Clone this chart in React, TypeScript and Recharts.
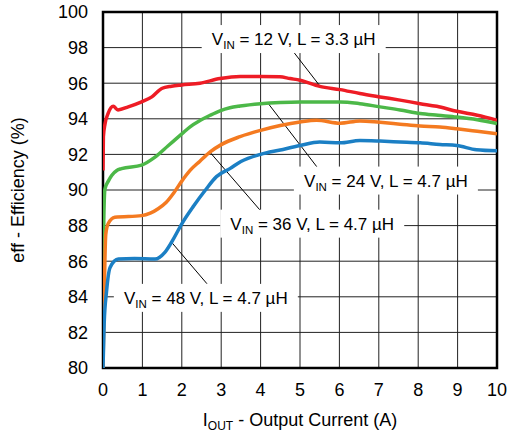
import React from "react";
import {
  LineChart,
  Line,
  XAxis,
  YAxis,
  CartesianGrid,
  ReferenceArea,
  ReferenceLine,
  ReferenceDot,
  Label,
} from "recharts";

// ---- Data ----
const xTicks = [0, 1, 2, 3, 4, 5, 6, 7, 8, 9, 10];
const yTicks = [80, 82, 84, 86, 88, 90, 92, 94, 96, 98, 100];

const cur12 = [0, 0.01, 0.05, 0.13, 0.26, 0.38, 0.64, 0.98, 1.24, 1.49, 1.74, 2.0, 2.46, 2.97, 3.48, 4.0, 4.49, 4.75, 5.0, 5.5, 6.02, 6.52, 7.03, 7.54, 8.05, 8.47, 8.98, 9.5, 10];
const eff12 = [91.1, 93.0, 93.7, 94.3, 94.7, 94.5, 94.67, 94.95, 95.23, 95.7, 95.83, 95.9, 96.0, 96.26, 96.38, 96.38, 96.36, 96.26, 96.17, 95.82, 95.64, 95.42, 95.23, 95.05, 94.85, 94.7, 94.42, 94.2, 93.92];

const cur24 = [0, 0.02, 0.05, 0.135, 0.22, 0.35, 0.47, 0.98, 1.32, 1.66, 2.0, 2.21, 2.46, 2.72, 2.97, 3.22, 3.48, 4.0, 4.5, 5.0, 5.67, 6.02, 6.52, 7.03, 7.54, 8.05, 8.5, 8.98, 9.5, 10];
const eff24 = [84, 88.3, 90.07, 90.5, 90.82, 91.1, 91.2, 91.4, 91.85, 92.5, 93.15, 93.55, 93.9, 94.2, 94.45, 94.62, 94.72, 94.85, 94.92, 94.95, 94.95, 94.95, 94.85, 94.67, 94.5, 94.3, 94.2, 94.1, 93.95, 93.73];

const cur36 = [0, 0.03, 0.07, 0.13, 0.3, 0.98, 1.2, 1.4, 1.6, 1.8, 2.0, 2.21, 2.46, 2.72, 3.0, 3.48, 4.0, 4.5, 5.0, 5.42, 6.02, 6.52, 7.03, 7.54, 8.05, 8.55, 8.98, 9.5, 10];
const eff36 = [80, 84, 87.5, 88.1, 88.47, 88.56, 88.7, 88.95, 89.3, 89.85, 90.5, 91.1, 91.62, 92.14, 92.55, 93.0, 93.35, 93.62, 93.82, 93.92, 93.75, 93.88, 93.8, 93.7, 93.6, 93.54, 93.44, 93.3, 93.16];

const cur48 = [0, 0.03, 0.09, 0.18, 0.39, 0.8, 1.32, 1.57, 1.8, 2.0, 2.3, 2.59, 2.88, 3.22, 3.5, 4.0, 4.5, 5.0, 5.5, 6.02, 6.52, 7.03, 7.54, 8.05, 8.55, 8.98, 9.48, 10];
const eff48 = [80, 82.5, 84.3, 85.65, 86.12, 86.15, 86.12, 86.5, 87.3, 88.1, 89.1, 89.97, 90.75, 91.2, 91.6, 92.0, 92.25, 92.5, 92.7, 92.65, 92.78, 92.75, 92.7, 92.65, 92.56, 92.5, 92.26, 92.2];

// annotation texts
const labelVin = ["12", "24", "36", "48"];
const labelL = ["3.3", "4.7", "4.7", "4.7"];
// label anchor points (data coordinates)
const labelX = [4.84, 7.18, 5.31, 2.61];
const labelY = [98.48, 90.53, 88.11, 83.94];
// leader line segments: from curve to label
const leadFrom = [
  { x: 5.51, y: 95.83 },
  { x: 4.19, y: 94.87 },
  { x: 2.72, y: 92.11 },
  { x: 1.75, y: 87.04 },
];
const leadTo = [
  { x: 4.8, y: 97.86 },
  { x: 5.46, y: 91.21 },
  { x: 4.04, y: 88.73 },
  { x: 2.64, y: 84.73 },
];

const zip = (xs: number[], ys: number[]) => xs.map((x, i) => ({ x, y: ys[i] }));
const series = [
  { name: "12V", data: zip(cur12, eff12), color: "#ee1c25" },
  { name: "24V", data: zip(cur24, eff24), color: "#4cb848" },
  { name: "36V", data: zip(cur36, eff36), color: "#f47a20" },
  { name: "48V", data: zip(cur48, eff48), color: "#1b7fc4" },
];

const FONT = "'Liberation Sans', Arial, Helvetica, sans-serif";

const makeLabelShape = (i: number) => (props: any) => {
  const { cx, cy } = props;
  const w = 184;
  const h = 28;
  return (
    <g>
      <rect x={cx - w / 2} y={cy - h / 2} width={w} height={h} fill="#fff" />
      <text
        x={cx}
        y={cy + 6}
        textAnchor="middle"
        fontFamily={FONT}
        fontSize={17}
        fill="#000"
      >
        V
        <tspan fontSize={11.5} dy={4}>IN</tspan>
        <tspan dy={-4}>{` = ${labelVin[i]} V, L = ${labelL[i]} µH`}</tspan>
      </text>
    </g>
  );
};

const XTitle = (props: any) => {
  const vb = props.viewBox;
  return (
    <text
      x={vb.x + vb.width / 2}
      y={vb.y + 58}
      textAnchor="middle"
      fontFamily={FONT}
      fontSize={18}
      fill="#000"
    >
      I
      <tspan fontSize={12} dy={4}>OUT</tspan>
      <tspan dy={-4}> - Output Current (A)</tspan>
    </text>
  );
};

const YTitle = (props: any) => {
  const vb = props.viewBox;
  const cx = 24;
  const cy = vb.y + vb.height / 2;
  return (
    <text
      x={cx}
      y={cy}
      textAnchor="middle"
      transform={`rotate(-90, ${cx}, ${cy})`}
      fontFamily={FONT}
      fontSize={18}
      fill="#000"
    >
      eff - Efficiency (%)
    </text>
  );
};

export default function App() {
  return (
    <div style={{ position: "absolute", left: 0, top: 0, width: 507, height: 434, background: "#fff" }}>
      <LineChart
        width={507}
        height={434}
        margin={{ top: 12, right: 10, bottom: 0, left: 0 }}
      >
        <CartesianGrid stroke="#222" strokeWidth={1} />
        <XAxis
          dataKey="x"
          type="number"
          domain={[0, 10]}
          ticks={xTicks}
          allowDataOverflow
          height={66}
          tickSize={0}
          tickMargin={15}
          axisLine={false}
          tickLine={false}
          tick={{ fill: "#000", fontSize: 18, fontFamily: FONT }}
        >
          <Label content={XTitle} />
        </XAxis>
        <YAxis
          dataKey="y"
          type="number"
          domain={[80, 100]}
          ticks={yTicks}
          allowDataOverflow
          width={103}
          tickSize={0}
          tickMargin={15}
          axisLine={false}
          tickLine={false}
          tick={{ fill: "#000", fontSize: 18, fontFamily: FONT }}
        >
          <Label content={YTitle} />
        </YAxis>
        {labelX.map((lx, i) => (
          <ReferenceDot
            key={`lab${i}`}
            x={lx}
            y={labelY[i]}
            r={0}
            shape={makeLabelShape(i)}
          />
        ))}
        {leadFrom.map((p, i) => (
          <ReferenceLine
            key={`lead${i}`}
            segment={[p, leadTo[i]]}
            stroke="#000"
            strokeWidth={1}
          />
        ))}
        {series.map((s) => (
          <Line
            key={s.name}
            data={s.data}
            dataKey="y"
            type="monotone"
            stroke={s.color}
            strokeWidth={3.5}
            dot={false}
            activeDot={false}
            isAnimationActive={false}
          />
        ))}
        <ReferenceArea x1={0} x2={10} y1={80} y2={100} fill="none" stroke="#000" strokeWidth={2.5} />
      </LineChart>
    </div>
  );
}
